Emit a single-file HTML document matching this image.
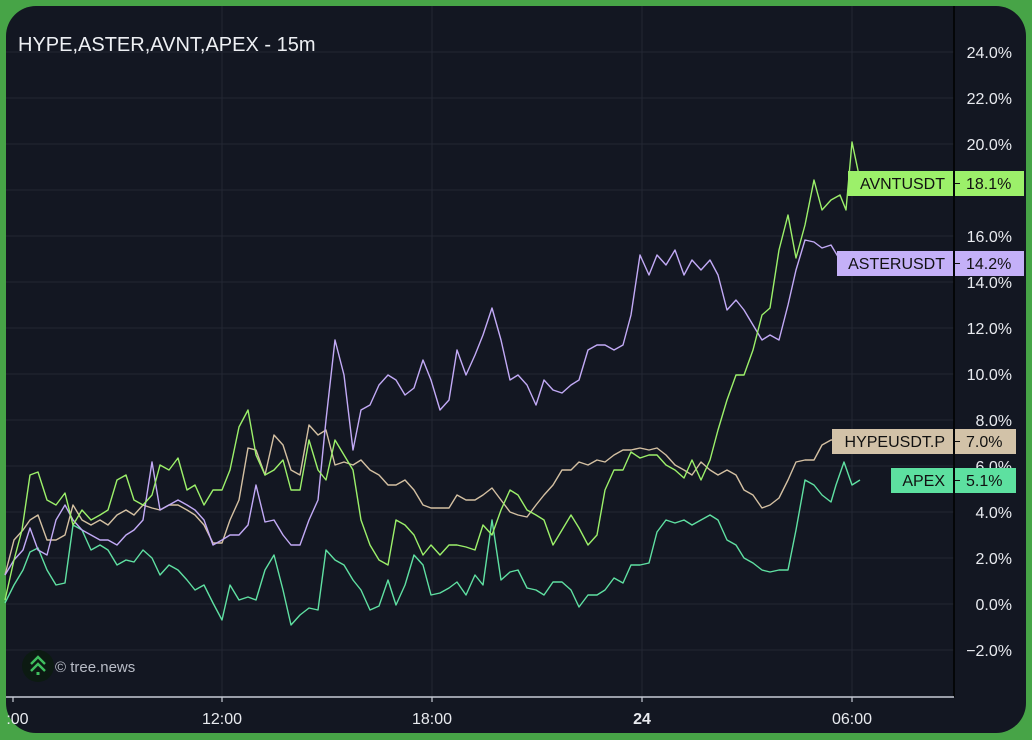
<!DOCTYPE html>
<html><head><meta charset="utf-8"><style>
html,body{margin:0;padding:0;width:1032px;height:740px;overflow:hidden;background:#3f9a3f;}
svg{display:block;font-family:"Liberation Sans",sans-serif;}
</style></head><body>
<svg width="1032" height="740" viewBox="0 0 1032 740">
<rect x="0" y="0" width="1032" height="740" fill="#47a447"/>
<rect x="6" y="6" width="1020" height="727" rx="30" fill="#131722"/>
<g stroke="#232733" stroke-width="1">
<line x1="6" y1="52" x2="954" y2="52"/><line x1="6" y1="98" x2="954" y2="98"/><line x1="6" y1="144" x2="954" y2="144"/><line x1="6" y1="190" x2="954" y2="190"/><line x1="6" y1="236" x2="954" y2="236"/><line x1="6" y1="282" x2="954" y2="282"/><line x1="6" y1="328" x2="954" y2="328"/><line x1="6" y1="374" x2="954" y2="374"/><line x1="6" y1="420" x2="954" y2="420"/><line x1="6" y1="466" x2="954" y2="466"/><line x1="6" y1="512" x2="954" y2="512"/><line x1="6" y1="558" x2="954" y2="558"/><line x1="6" y1="604" x2="954" y2="604"/><line x1="6" y1="650" x2="954" y2="650"/>
<line x1="222" y1="6" x2="222" y2="696"/><line x1="432" y1="6" x2="432" y2="696"/><line x1="642" y1="6" x2="642" y2="696"/><line x1="852" y1="6" x2="852" y2="696"/>
</g>
<line x1="954" y1="6" x2="954" y2="697" stroke="#000" stroke-width="1.5"/>
<line x1="6" y1="697" x2="954" y2="697" stroke="#c8ccd6" stroke-width="1.5"/>
<g stroke="#c8ccd6" stroke-width="1.2"><line x1="13" y1="697" x2="13" y2="702"/><line x1="222" y1="697" x2="222" y2="702"/><line x1="432" y1="697" x2="432" y2="702"/><line x1="642" y1="697" x2="642" y2="702"/><line x1="852" y1="697" x2="852" y2="702"/></g>
<g fill="none" stroke-width="1.4" stroke-linejoin="round">
<polyline stroke="#5fe0a2" points="5,603 14,585 23,570 30,552 38,548 47,570 56,585 65,583 73,525 82,530 91,550 100,545 108,550 117,565 126,560 134,562 143,550 152,558 160,575 169,565 178,570 187,580 195,590 204,585 213,603 222,620 230,585 239,600 248,597 256,600 265,570 274,555 283,590 291,625 300,615 309,608 318,610 326,550 335,560 344,565 353,580 361,590 370,610 379,606 388,580 396,605 405,585 414,555 423,565 431,595 440,593 449,588 457,582 466,595 475,575 483,585 492,520 501,580 510,572 518,570 527,588 536,590 544,595 553,582 562,582 571,590 579,607 588,595 597,595 605,590 614,578 623,583 631,565 640,565 649,563 657,532 666,520 675,523 684,520 692,525 701,520 710,515 718,520 727,540 736,545 744,558 753,563 762,570 770,572 779,570 788,570 796,530 805,480 814,485 822,495 831,502 836,485 844,462 852,485 860,480"/>
<polyline stroke="#d4c0a2" points="5,575 14,540 23,530 30,520 38,515 47,540 56,540 65,535 73,505 82,520 91,525 100,520 108,525 117,515 126,510 134,515 143,505 152,508 160,510 169,505 178,505 187,510 195,515 204,525 213,543 222,543 230,520 239,500 248,448 256,450 265,475 274,435 283,445 291,470 300,475 309,425 318,435 326,430 335,465 344,462 353,465 361,460 370,470 379,475 388,485 396,485 405,480 414,490 423,505 431,508 440,508 449,508 457,495 466,500 475,500 483,495 492,488 501,500 510,512 518,515 527,517 536,505 544,495 553,485 562,470 571,470 579,462 588,465 597,460 605,462 614,455 623,450 631,450 640,448 649,450 657,448 666,455 675,465 684,470 692,475 701,462 710,470 718,475 727,470 736,475 744,490 753,495 762,508 770,505 779,498 788,480 796,462 805,460 814,460 822,445 831,440 840,440"/>
<polyline stroke="#c2aaf6" points="5,575 14,560 23,550 30,528 38,550 47,555 56,520 65,505 73,520 82,530 91,535 100,540 108,540 117,545 126,535 134,530 143,520 152,462 160,510 169,505 178,500 187,505 195,510 204,520 213,545 222,540 230,535 239,535 248,525 256,485 265,522 274,520 283,535 291,545 300,545 309,520 318,500 326,420 335,340 344,375 353,450 361,410 370,405 379,385 388,375 396,380 405,395 414,388 423,360 431,380 440,410 449,400 457,350 466,375 475,355 483,335 492,308 501,340 510,380 518,375 527,385 536,405 544,380 553,390 562,393 571,385 579,380 588,350 597,345 605,345 614,350 623,345 631,315 640,255 649,275 657,255 666,265 675,250 684,275 692,260 701,270 710,260 718,275 727,310 736,300 744,310 753,325 762,340 770,335 779,340 788,305 796,270 805,240 814,242 822,248 831,245 840,260"/>
<polyline stroke="#9cf06a" points="5,600 14,560 22,530 30,475 38,472 47,500 56,505 65,493 73,525 82,510 91,520 100,515 108,510 117,480 126,475 134,500 143,505 152,495 160,465 169,470 178,458 187,490 195,485 204,505 213,490 222,490 230,470 239,427 248,410 256,455 265,475 274,470 283,460 291,490 300,490 309,440 318,470 326,480 335,440 344,455 353,470 361,520 370,545 379,560 388,565 396,520 405,525 414,535 423,555 431,545 440,555 449,545 457,545 466,547 475,550 483,525 492,535 501,510 510,490 518,495 527,510 536,515 544,520 553,545 562,530 571,515 579,528 588,545 597,535 605,490 614,470 623,470 631,452 640,458 649,455 657,455 666,465 675,470 684,478 692,460 701,480 710,460 718,430 727,400 736,375 744,375 753,350 762,315 770,308 779,250 788,215 796,258 805,225 814,180 822,210 831,200 840,195 846,210 852,142 860,180"/>
</g>
<g fill="#e8eaef" font-size="16" text-anchor="end">
<text x="1012" y="58">24.0%</text><text x="1012" y="104">22.0%</text><text x="1012" y="150">20.0%</text><text x="1012" y="242">16.0%</text><text x="1012" y="288">14.0%</text><text x="1012" y="334">12.0%</text><text x="1012" y="380">10.0%</text><text x="1012" y="426">8.0%</text><text x="1012" y="472">6.0%</text><text x="1012" y="518">4.0%</text><text x="1012" y="564">2.0%</text><text x="1012" y="610">0.0%</text><text x="1012" y="656">−2.0%</text>
</g>
<g font-size="16" fill="#111">
<rect x="848" y="171" width="105" height="25" fill="#9cf06a"/><rect x="955" y="171" width="69" height="25" fill="#9cf06a"/>
<text x="945" y="189" text-anchor="end">AVNTUSDT</text><text x="966" y="189">18.1%</text>
<rect x="837" y="251" width="116" height="25" fill="#c4b0f8"/><rect x="955" y="251" width="69" height="25" fill="#c4b0f8"/>
<text x="945" y="269" text-anchor="end">ASTERUSDT</text><text x="966" y="269">14.2%</text>
<rect x="832" y="429" width="121" height="25" fill="#d2c2a8"/><rect x="955" y="429" width="61" height="25" fill="#d2c2a8"/>
<text x="945" y="447" text-anchor="end">HYPEUSDT.P</text><text x="966" y="447">7.0%</text>
<rect x="891" y="468" width="62" height="25" fill="#5de0a0"/><rect x="955" y="468" width="61" height="25" fill="#5de0a0"/>
<text x="945" y="486" text-anchor="end">APEX</text><text x="966" y="486">5.1%</text>
<g stroke="#111" stroke-width="1"><line x1="955" y1="183.5" x2="960" y2="183.5"/><line x1="955" y1="263.5" x2="960" y2="263.5"/><line x1="955" y1="441.5" x2="960" y2="441.5"/><line x1="955" y1="480.5" x2="960" y2="480.5"/></g>
</g>
<text x="18" y="51" fill="#eef0f4" font-size="20">HYPE,ASTER,AVNT,APEX - 15m</text>
<circle cx="38" cy="666" r="16" fill="#0c1a12"/>
<g fill="none" stroke="#3fbf5f" stroke-width="2.4"><polyline points="31,664 38,657 45,664"/><polyline points="31,671 38,664 45,671"/></g>
<rect x="36.5" y="672" width="3" height="3" fill="#3fbf5f"/>
<text x="55" y="672" fill="#b8bcc6" font-size="15">© tree.news</text>
<g fill="#e8eaef" font-size="16" text-anchor="middle">
<text x="13" y="724">6:00</text><text x="222" y="724">12:00</text><text x="432" y="724">18:00</text><text x="642" y="724" font-weight="bold">24</text><text x="852" y="724">06:00</text>
</g>
<rect x="0" y="700" width="6" height="40" fill="#47a447"/>
</svg>
</body></html>
